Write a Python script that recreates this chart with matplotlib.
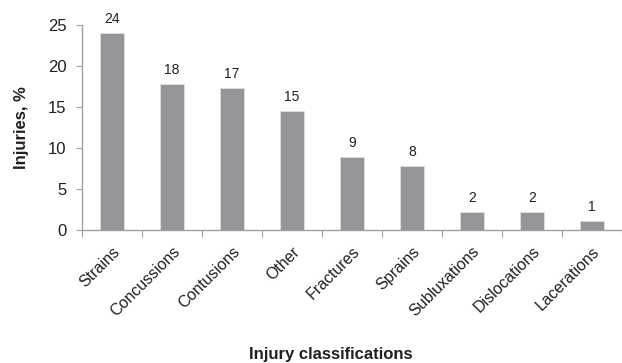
import numpy as np
import matplotlib
matplotlib.use("Agg")
import matplotlib.pyplot as plt

plt.rcParams['font.family'] = ['Liberation Sans', 'DejaVu Sans']

categories = ["Strains", "Concussions", "Contusions", "Other", "Fractures",
              "Sprains", "Subluxations", "Dislocations", "Lacerations"]
values = [24.0, 17.8, 17.3, 14.5, 8.9, 7.8, 2.2, 2.2, 1.1]
value_labels = ["24", "18", "17", "15", "9", "8", "2", "2", "1"]
y_ticks = [0, 5, 10, 15, 20, 25]

fig = plt.figure(figsize=(6.22, 3.63), dpi=100)
ax = fig.add_axes([82 / 622, 1 - 230 / 363, 540 / 622, 205 / 363])

x = np.arange(len(categories))
bars = ax.bar(x, values, width=0.4, color="#939598", edgecolor="#e0e0e0", linewidth=0.6)

for bar, lab in zip(bars, value_labels):
    ax.annotate(lab, (bar.get_x() + bar.get_width() / 2, bar.get_height()),
                xytext=(0, 5), textcoords="offset points",
                ha="center", va="bottom", fontsize=10, color="#231f20")

ax.set_xlim(-0.5, len(categories) - 0.5)
ax.set_ylim(0, 25)
ax.set_yticks(y_ticks)
ax.tick_params(axis="y", labelsize=12, colors="#a0a0a0", labelcolor="#231f20",
               length=4, width=0.8, direction="out", pad=7)

# category boundary ticks on x axis, labels centered on bars
ax.set_xticks(np.arange(len(categories) + 1) - 0.5)
ax.set_xticklabels([])
ax.set_xticks(x, minor=True)
ax.set_xticklabels(categories, minor=True, rotation=45, ha="right",
                   rotation_mode="anchor", fontsize=11.5, color="#231f20")
ax.tick_params(axis="x", which="major", length=5, width=0.8, colors="#a0a0a0")
ax.tick_params(axis="x", which="minor", length=0, pad=10)

for side in ["top", "right"]:
    ax.spines[side].set_visible(False)
for side in ["left", "bottom"]:
    ax.spines[side].set_color("#a0a0a0")
    ax.spines[side].set_linewidth(1.0)

ax.set_ylabel("Injuries, %", fontsize=12, fontweight="bold", color="#231f20", labelpad=14)
fig.text(331 / 622, 1 - 355 / 363, "Injury classifications", ha="center", va="center",
         fontsize=12, fontweight="bold", color="#231f20")

fig.savefig("out.png", dpi=100)
